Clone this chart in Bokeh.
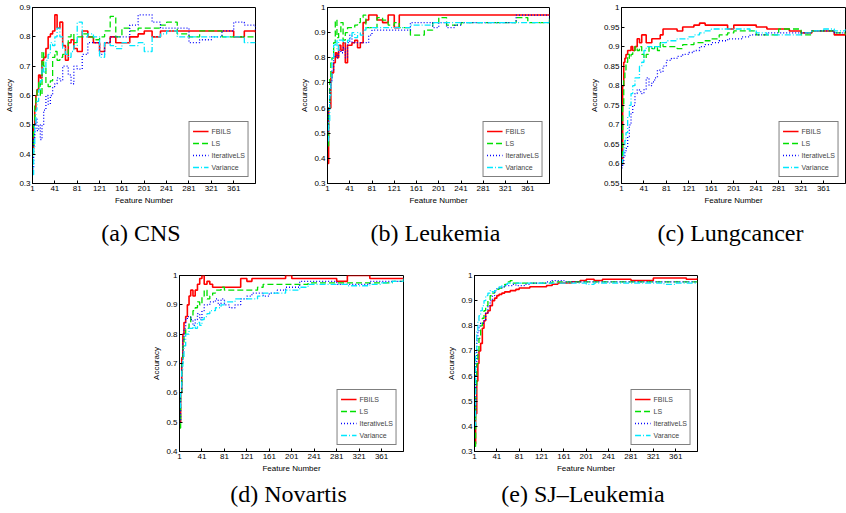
from bokeh.plotting import figure
from bokeh.layouts import row, column
from bokeh.models import Spacer, Title, FixedTicker, CustomJSTickFormatter, Range1d
from bokeh.embed import file_html
from bokeh.resources import INLINE

# ---------------- data ----------------
X = [1, 3, 5, 7, 9, 12, 15, 18, 21, 25, 29, 33, 37, 41, 45, 50, 55, 60, 65, 70, 75, 81,
     90, 100, 110, 121, 130, 140, 150, 161, 175, 190, 201, 215, 230, 241, 260, 281, 300,
     321, 340, 361, 380, 400]

SERIES_NAMES = ["FBILS", "LS", "IterativeLS", "Variance"]
SERIES_NAMES_E = ["FBILS", "LS", "IterativeLS", "Varance"]

CNS_FBILS = [0.42, 0.50, 0.55, 0.60, 0.62, 0.67, 0.66, 0.72, 0.73, 0.76, 0.80, 0.81, 0.82, 0.875, 0.83,
             0.85, 0.77, 0.72, 0.78, 0.79, 0.76, 0.75, 0.82, 0.80, 0.78, 0.75, 0.78, 0.80, 0.78, 0.78,
             0.80, 0.81, 0.82, 0.80, 0.82, 0.82, 0.82, 0.82, 0.82, 0.82, 0.82, 0.80, 0.82, 0.815]
CNS_LS = [0.40, 0.50, 0.57, 0.60, 0.62, 0.65, 0.60, 0.75, 0.70, 0.64, 0.63, 0.65, 0.73, 0.75, 0.72,
          0.73, 0.74, 0.74, 0.80, 0.81, 0.78, 0.80, 0.81, 0.80, 0.79, 0.80, 0.82, 0.87, 0.80, 0.83,
          0.82, 0.83, 0.83, 0.83, 0.84, 0.85, 0.81, 0.80, 0.82, 0.82, 0.80, 0.80, 0.80, 0.80]
CNS_ILS = [0.35, 0.45, 0.50, 0.52, 0.48, 0.50, 0.45, 0.50, 0.55, 0.60, 0.57, 0.60, 0.63, 0.64, 0.66,
           0.65, 0.70, 0.70, 0.67, 0.64, 0.70, 0.69, 0.74, 0.78, 0.78, 0.74, 0.78, 0.80, 0.80, 0.80,
           0.84, 0.875, 0.875, 0.85, 0.83, 0.83, 0.83, 0.78, 0.79, 0.80, 0.82, 0.85, 0.84, 0.82]
CNS_VAR = [0.33, 0.42, 0.50, 0.55, 0.58, 0.62, 0.65, 0.70, 0.68, 0.72, 0.74, 0.78, 0.77, 0.80, 0.83,
           0.80, 0.76, 0.74, 0.73, 0.75, 0.77, 0.85, 0.80, 0.81, 0.80, 0.73, 0.78, 0.77, 0.76, 0.78,
           0.77, 0.78, 0.75, 0.80, 0.81, 0.82, 0.80, 0.80, 0.80, 0.80, 0.80, 0.80, 0.78, 0.78]

LEU_FBILS = [0.38, 0.60, 0.60, 0.72, 0.74, 0.78, 0.82, 0.80, 0.85, 0.83, 0.86, 0.78, 0.85, 0.85, 0.86,
             0.87, 0.84, 0.86, 0.94, 0.95, 0.97, 0.97, 0.95, 0.94, 0.97, 0.92, 0.97, 0.97, 0.97, 0.97,
             0.97, 0.97, 0.97, 0.97, 0.97, 0.97, 0.97, 0.97, 0.97, 0.97, 0.97, 0.97, 0.97, 0.97]
LEU_LS = [0.45, 0.60, 0.72, 0.78, 0.80, 0.86, 0.95, 0.88, 0.90, 0.94, 0.87, 0.90, 0.92, 0.92, 0.92,
          0.93, 0.94, 0.96, 0.97, 0.92, 0.92, 0.92, 0.96, 0.95, 0.93, 0.94, 0.92, 0.92, 0.89, 0.89,
          0.91, 0.94, 0.96, 0.93, 0.93, 0.94, 0.94, 0.94, 0.94, 0.94, 0.96, 0.94, 0.94, 0.96]
LEU_ILS = [0.50, 0.60, 0.68, 0.71, 0.75, 0.80, 0.81, 0.80, 0.83, 0.82, 0.84, 0.80, 0.86, 0.89, 0.86,
           0.86, 0.86, 0.86, 0.86, 0.86, 0.89, 0.91, 0.91, 0.91, 0.91, 0.91, 0.91, 0.91, 0.94, 0.94,
           0.94, 0.92, 0.94, 0.92, 0.93, 0.94, 0.94, 0.94, 0.94, 0.94, 0.97, 0.97, 0.97, 0.94]
LEU_VAR = [0.47, 0.55, 0.65, 0.70, 0.80, 0.85, 0.87, 0.83, 0.87, 0.87, 0.86, 0.86, 0.87, 0.88, 0.90,
           0.88, 0.90, 0.89, 0.91, 0.92, 0.92, 0.92, 0.92, 0.92, 0.92, 0.92, 0.92, 0.92, 0.93, 0.93,
           0.93, 0.94, 0.94, 0.94, 0.94, 0.94, 0.94, 0.94, 0.94, 0.94, 0.94, 0.94, 0.94, 0.94]

LUNG_FBILS = [0.60, 0.80, 0.86, 0.87, 0.88, 0.89, 0.89, 0.90, 0.89, 0.90, 0.92, 0.91, 0.93, 0.93, 0.91,
              0.91, 0.92, 0.92, 0.92, 0.93, 0.945, 0.945, 0.945, 0.94, 0.95, 0.95, 0.955, 0.96, 0.955, 0.955,
              0.955, 0.945, 0.955, 0.955, 0.955, 0.95, 0.945, 0.945, 0.94, 0.935, 0.94, 0.94, 0.93, 0.935]
LUNG_LS = [0.62, 0.75, 0.82, 0.84, 0.86, 0.88, 0.87, 0.88, 0.89, 0.90, 0.89, 0.90, 0.88, 0.87, 0.88,
           0.90, 0.895, 0.90, 0.89, 0.91, 0.90, 0.90, 0.90, 0.895, 0.905, 0.905, 0.91, 0.91, 0.915, 0.92,
           0.93, 0.935, 0.94, 0.94, 0.94, 0.93, 0.93, 0.945, 0.945, 0.93, 0.94, 0.94, 0.935, 0.93]
LUNG_ILS = [0.59, 0.60, 0.62, 0.63, 0.64, 0.67, 0.70, 0.73, 0.75, 0.78, 0.79, 0.785, 0.78, 0.79, 0.82,
            0.80, 0.81, 0.82, 0.84, 0.835, 0.85, 0.865, 0.87, 0.875, 0.88, 0.885, 0.89, 0.90, 0.905, 0.91,
            0.915, 0.92, 0.92, 0.925, 0.93, 0.93, 0.935, 0.935, 0.935, 0.935, 0.94, 0.94, 0.935, 0.935]
LUNG_VAR = [0.60, 0.62, 0.64, 0.66, 0.68, 0.72, 0.75, 0.78, 0.80, 0.82, 0.82, 0.85, 0.86, 0.89, 0.90,
            0.90, 0.895, 0.90, 0.90, 0.91, 0.91, 0.915, 0.915, 0.92, 0.92, 0.925, 0.93, 0.935, 0.94, 0.945,
            0.945, 0.945, 0.945, 0.945, 0.94, 0.935, 0.93, 0.93, 0.93, 0.935, 0.94, 0.945, 0.94, 0.945]

NOV_FBILS = [0.50, 0.60, 0.72, 0.80, 0.84, 0.86, 0.90, 0.93, 0.95, 0.93, 0.95, 0.97, 0.99, 1.00, 0.97,
             0.98, 0.97, 0.96, 0.96, 0.96, 0.96, 0.96, 0.96, 0.96, 0.99, 0.98, 0.99, 0.99, 0.99, 0.99,
             0.99, 1.00, 0.99, 0.99, 0.99, 0.99, 0.99, 0.98, 1.00, 1.00, 0.99, 0.99, 0.99, 0.99]
NOV_LS = [0.48, 0.60, 0.70, 0.76, 0.80, 0.82, 0.82, 0.84, 0.86, 0.88, 0.89, 0.91, 0.90, 0.93, 0.95,
          0.92, 0.93, 0.94, 0.95, 0.95, 0.96, 0.95, 0.95, 0.95, 0.95, 0.95, 0.95, 0.96, 0.97, 0.97,
          0.97, 0.97, 0.97, 0.97, 0.975, 0.975, 0.975, 0.975, 0.975, 0.975, 0.975, 0.975, 0.98, 0.98]
NOV_ILS = [0.50, 0.60, 0.70, 0.78, 0.82, 0.85, 0.86, 0.86, 0.85, 0.83, 0.85, 0.87, 0.85, 0.88, 0.90,
           0.90, 0.91, 0.91, 0.92, 0.90, 0.92, 0.90, 0.89, 0.90, 0.92, 0.93, 0.94, 0.94, 0.93, 0.94,
           0.95, 0.96, 0.96, 0.98, 0.98, 0.98, 0.98, 0.97, 0.97, 0.97, 0.98, 0.98, 0.98, 0.98]
NOV_VAR = [0.55, 0.60, 0.68, 0.72, 0.76, 0.80, 0.80, 0.82, 0.82, 0.83, 0.82, 0.84, 0.83, 0.85, 0.86,
           0.87, 0.88, 0.88, 0.89, 0.89, 0.90, 0.91, 0.91, 0.92, 0.92, 0.92, 0.92, 0.93, 0.94, 0.94,
           0.94, 0.95, 0.95, 0.96, 0.97, 0.97, 0.97, 0.97, 0.965, 0.965, 0.97, 0.975, 0.98, 0.99]

SJ_FBILS = [0.33, 0.45, 0.58, 0.65, 0.70, 0.73, 0.79, 0.82, 0.85, 0.86, 0.88, 0.90, 0.91, 0.92, 0.925,
            0.93, 0.935, 0.935, 0.94, 0.94, 0.945, 0.95, 0.95, 0.955, 0.955, 0.955, 0.96, 0.965, 0.97, 0.97,
            0.975, 0.98, 0.985, 0.98, 0.985, 0.985, 0.985, 0.98, 0.98, 0.99, 0.99, 0.99, 0.985, 0.99]
SJ_LS = [0.32, 0.55, 0.65, 0.70, 0.75, 0.80, 0.83, 0.86, 0.88, 0.90, 0.92, 0.93, 0.94, 0.945, 0.95,
         0.955, 0.965, 0.975, 0.98, 0.97, 0.97, 0.97, 0.97, 0.97, 0.97, 0.97, 0.97, 0.975, 0.975, 0.975,
         0.975, 0.975, 0.975, 0.975, 0.975, 0.975, 0.975, 0.975, 0.975, 0.975, 0.975, 0.975, 0.975, 0.975]
SJ_ILS = [0.45, 0.65, 0.74, 0.78, 0.80, 0.81, 0.81, 0.82, 0.85, 0.88, 0.90, 0.92, 0.94, 0.95, 0.95,
          0.955, 0.96, 0.96, 0.96, 0.965, 0.96, 0.96, 0.965, 0.97, 0.97, 0.97, 0.975, 0.98, 0.98, 0.975,
          0.975, 0.975, 0.975, 0.975, 0.975, 0.975, 0.975, 0.975, 0.975, 0.975, 0.975, 0.975, 0.975, 0.975]
SJ_VAR = [0.40, 0.70, 0.78, 0.82, 0.84, 0.86, 0.88, 0.90, 0.92, 0.93, 0.94, 0.935, 0.94, 0.95, 0.955,
          0.96, 0.965, 0.97, 0.97, 0.97, 0.97, 0.97, 0.97, 0.97, 0.97, 0.97, 0.97, 0.97, 0.97, 0.97,
          0.97, 0.97, 0.965, 0.97, 0.97, 0.97, 0.97, 0.97, 0.97, 0.97, 0.965, 0.97, 0.97, 0.97]

XTICKS = [1, 41, 81, 121, 161, 201, 241, 281, 321, 361]
YTICKS_A = [0.3, 0.4, 0.5, 0.6, 0.7, 0.8, 0.9]
YTICKS_B = [0.3, 0.4, 0.5, 0.6, 0.7, 0.8, 0.9, 1.0]
YTICKS_C = [0.55, 0.6, 0.65, 0.7, 0.75, 0.8, 0.85, 0.9, 0.95, 1.0]
YTICKS_D = [0.4, 0.5, 0.6, 0.7, 0.8, 0.9, 1.0]
YTICKS_E = [0.3, 0.4, 0.5, 0.6, 0.7, 0.8, 0.9, 1.0]

STYLES = [("#ff0000", "solid", 1.6), ("#00e000", "6 3", 1.3),
          ("#0000ff", "1 2", 1.3), ("#00e8ff", "6 2 1 2", 1.3)]

FONT = "Liberation Sans"


def panel(caption, series, names, yr, yticks, fw, fh, bl, br, bt, bb, cap_standoff):
    p = figure(frame_width=fw, frame_height=fh, x_range=Range1d(1, 400), y_range=Range1d(*yr),
               output_backend="svg", toolbar_location=None,
               min_border_left=bl, min_border_right=br, min_border_top=bt, min_border_bottom=bb)
    p.xgrid.visible = False
    p.ygrid.visible = False
    p.outline_line_color = "black"
    p.outline_line_width = 1
    p.outline_line_alpha = 1
    p.background_fill_color = "white"
    p.border_fill_color = "white"
    fmt = CustomJSTickFormatter(code="return String(Number(tick.toFixed(2)));")

    for ax in (p.xaxis[0], p.yaxis[0]):
        ax.major_tick_in = 3
        ax.major_tick_out = 0
        ax.minor_tick_line_color = None
        ax.major_label_text_font = FONT
        ax.major_label_text_font_size = "8px"
        ax.major_label_text_color = "black"
        ax.axis_label_text_font = FONT
        ax.axis_label_text_font_size = "8px"
        ax.axis_label_text_font_style = "normal"
        ax.axis_label_text_color = "black"
        ax.axis_line_color = "black"
        ax.major_tick_line_color = "black"
        ax.major_label_standoff = 2
        ax.axis_label_standoff = 2
    p.xaxis[0].ticker = FixedTicker(ticks=XTICKS)
    p.yaxis[0].ticker = FixedTicker(ticks=yticks)
    p.yaxis[0].formatter = fmt
    p.xaxis[0].axis_label = "Feature Number"
    p.yaxis[0].axis_label = "Accuracy"

    for ys, name, (col, dash, lw) in zip(series, names, STYLES):
        p.step(X, ys, mode="after", line_color=col, line_dash=dash, line_width=lw,
               legend_label=name)

    lg = p.legend[0]
    lg.location = "bottom_right"
    lg.margin = 6
    lg.padding = 3
    lg.spacing = 0
    lg.label_text_font = FONT
    lg.label_text_font_size = "7px"
    lg.label_height = 12
    lg.glyph_height = 12
    lg.glyph_width = 16
    lg.label_standoff = 3
    lg.border_line_color = "black"
    lg.border_line_width = 1
    lg.background_fill_alpha = 1

    t = Title(text=caption, align="center", text_font="Liberation Serif",
              text_font_size="24px", text_font_style="normal", text_color="black",
              standoff=cap_standoff)
    p.add_layout(t, "below")
    return p


# row 1: frames at x 32-255, 327-549, 621-845 ; y 7-183
pa = panel("(a)  CNS", [CNS_FBILS, CNS_LS, CNS_ILS, CNS_VAR], SERIES_NAMES, (0.3, 0.9), YTICKS_A,
           223, 176, 32, 40, 7, 78, 20)
pb = panel("(b)  Leukemia", [LEU_FBILS, LEU_LS, LEU_ILS, LEU_VAR], SERIES_NAMES, (0.3, 1.0), YTICKS_B,
           222, 176, 32, 35, 7, 78, 20)
pc = panel("(c)  Lungcancer", [LUNG_FBILS, LUNG_LS, LUNG_ILS, LUNG_VAR], SERIES_NAMES, (0.55, 1.0), YTICKS_C,
           224, 176, 37, 1, 7, 78, 20)
# row 2: frames at x 179-403, 474-697 ; y 275-451
pd = panel("(d)  Novartis", [NOV_FBILS, NOV_LS, NOV_ILS, NOV_VAR], SERIES_NAMES, (0.4, 1.0), YTICKS_D,
           224, 176, 32, 39, 14, 62, 7)
pe = panel("(e)  SJ\u2013Leukemia", [SJ_FBILS, SJ_LS, SJ_ILS, SJ_VAR], SERIES_NAMES_E, (0.3, 1.0), YTICKS_E,
           223, 176, 32, 13, 14, 62, 7)

layout = column(row(pa, pb, pc), row(Spacer(width=147, height=252), pd, pe))

open("out.html", "w").write(file_html(layout, INLINE))
